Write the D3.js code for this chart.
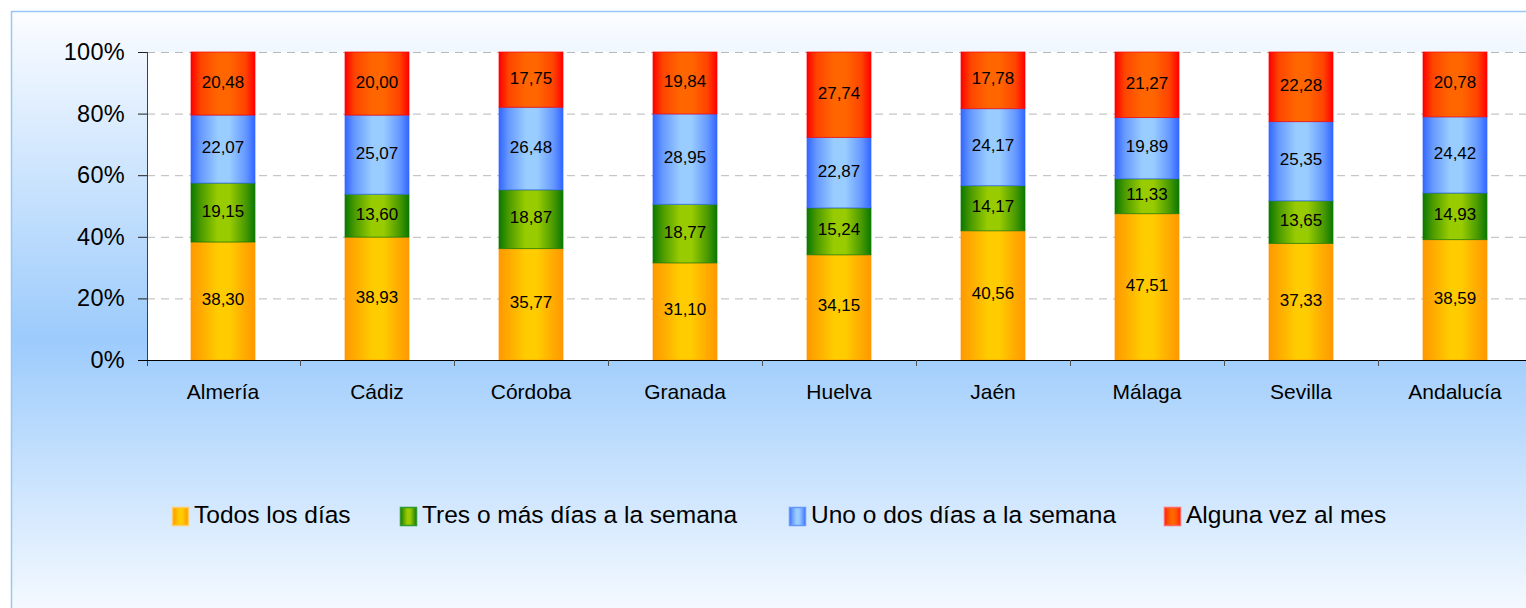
<!DOCTYPE html>
<html>
<head>
<meta charset="utf-8">
<script src="https://cdn.jsdelivr.net/npm/d3@7"></script>
<style>
  body { margin: 0; background: #ffffff; }
  svg text { font-family: "Liberation Sans", Arial, sans-serif; fill: #000; }
</style>
</head>
<body>
<svg id="chart" width="1526" height="608"></svg>
<script>
// data
var provincias = ["Almería", "Cádiz", "Córdoba", "Granada", "Huelva", "Jaén", "Málaga", "Sevilla", "Andalucía"]
var series = ["Todos los días", "Tres o más días a la semana", "Uno o dos días a la semana", "Alguna vez al mes"]
var todos_dias = [38.30, 38.93, 35.77, 31.10, 34.15, 40.56, 47.51, 37.33, 38.59]
var tres_mas = [19.15, 13.60, 18.87, 18.77, 15.24, 14.17, 11.33, 13.65, 14.93]
var uno_dos = [22.07, 25.07, 26.48, 28.95, 22.87, 24.17, 19.89, 25.35, 24.42]
var alguna_vez = [20.48, 20.00, 17.75, 19.84, 27.74, 17.78, 21.27, 22.28, 20.78]
var y_ticks = [0, 20, 40, 60, 80, 100]

var svg = d3.select("#chart")
var defs = svg.append("defs")

const plot = {left: 147, top: 52, bottom: 360, right: 1532}
const barWidth = 64

// gradients: edge / middle colours for each series
var palette = [
    {id: "g_todos", edge: "#ff9900", mid1: "#ffaa00", mid: "#ffcc00", light: "#ffcc66"},
    {id: "g_tres", edge: "#0b7800", mid1: "#4a9a00", mid: "#99cc00", light: "#339933"},
    {id: "g_uno", edge: "#3366ff", mid1: "#6699ff", mid: "#99ccff", light: "#6699ff"},
    {id: "g_alguna", edge: "#ff0000", mid1: "#ff4400", mid: "#ff6600", light: "#ff6666"}
]
palette.forEach(function(p) {
    var g = defs.append("linearGradient").attr("id", p.id)
        .attr("x1", "0%").attr("x2", "100%").attr("y1", "0%").attr("y2", "0%")
    g.append("stop").attr("offset", "0%").attr("stop-color", p.edge)
    g.append("stop").attr("offset", "15%").attr("stop-color", p.mid1)
    g.append("stop").attr("offset", "42%").attr("stop-color", p.mid)
    g.append("stop").attr("offset", "60%").attr("stop-color", p.mid)
    g.append("stop").attr("offset", "85%").attr("stop-color", p.mid1)
    g.append("stop").attr("offset", "100%").attr("stop-color", p.edge)
})

var bg = defs.append("linearGradient").attr("id", "bg_grad")
    .attr("x1", "0%").attr("x2", "0%").attr("y1", "0%").attr("y2", "100%")
bg.append("stop").attr("offset", "0%").attr("stop-color", "#fcfdff")
bg.append("stop").attr("offset", "52%").attr("stop-color", "#9ccbfc")
bg.append("stop").attr("offset", "100%").attr("stop-color", "#ffffff")

// chart area background
svg.append("rect")
    .attr("x", 11.5).attr("y", 11.5)
    .attr("width", 1540).attr("height", 630)
    .attr("fill", "url(#bg_grad)")
    .attr("stroke", "#99c7f5").attr("stroke-width", 1.5)

svg.append("rect")
    .attr("x", plot.left).attr("y", plot.top)
    .attr("width", plot.right - plot.left).attr("height", plot.bottom - plot.top)
    .attr("fill", "#ffffff")

// scales
var xScale = d3.scaleBand()
    .domain(provincias)
    .range([146, plot.right])

var yScale = d3.scaleLinear()
    .domain([0, 100])
    .range([plot.bottom, plot.top])

// gridlines
svg.append("g").attr("class", "grid")
    .selectAll("line")
    .data(y_ticks.filter(d => d > 0)).enter()
    .append("line")
    .attr("x1", plot.left).attr("x2", plot.right)
    .attr("y1", d => yScale(d) + 0.5).attr("y2", d => yScale(d) + 0.5)
    .attr("stroke", "#b8b8b8")
    .attr("stroke-dasharray", "8,6")

// stacked data
var table = provincias.map(function(p, i) {
    return {provincia: p, s0: todos_dias[i], s1: tres_mas[i], s2: uno_dos[i], s3: alguna_vez[i]}
})
var keys = ["s0", "s1", "s2", "s3"]
var stacked = d3.stack().keys(keys).offset(d3.stackOffsetExpand)(table)

var layers = svg.selectAll("g.layer")
    .data(stacked).enter()
    .append("g").attr("class", "layer")

layers.each(function(layer, li) {
    var g = d3.select(this)
    g.selectAll("rect")
        .data(layer).enter()
        .append("rect")
        .attr("x", d => xScale(d.data.provincia) + (xScale.bandwidth() - barWidth) / 2)
        .attr("width", barWidth)
        .attr("y", d => yScale(d[1] * 100))
        .attr("height", d => yScale(d[0] * 100) - yScale(d[1] * 100))
        .attr("fill", "url(#" + palette[li].id + ")")
        .attr("stroke", palette[li].edge)
        .attr("stroke-width", 1)
        .attr("stroke-opacity", 0.7)

    g.selectAll("text")
        .data(layer).enter()
        .append("text")
        .attr("x", d => xScale(d.data.provincia) + xScale.bandwidth() / 2)
        .attr("y", d => (yScale(d[0] * 100) + yScale(d[1] * 100)) / 2 + 4)
        .attr("text-anchor", "middle")
        .style("font-size", "17px")
        .text(d => d.data[layer.key].toFixed(2).replace(".", ","))
})

// y axis
var yAxis = svg.append("g").attr("class", "yaxis")
yAxis.append("line")
    .attr("x1", plot.left + 0.5).attr("x2", plot.left + 0.5)
    .attr("y1", plot.top).attr("y2", plot.bottom + 6)
    .attr("stroke", "#404040")
yAxis.selectAll("line.tick")
    .data(y_ticks).enter()
    .append("line").attr("class", "tick")
    .attr("x1", 138).attr("x2", plot.left)
    .attr("y1", d => yScale(d) + 0.5).attr("y2", d => yScale(d) + 0.5)
    .attr("stroke", "#202020")
yAxis.selectAll("text")
    .data(y_ticks).enter()
    .append("text")
    .attr("x", 125)
    .attr("y", d => yScale(d) + 8)
    .attr("text-anchor", "end")
    .style("font-size", "23.5px")
    .style("letter-spacing", "0.3px")
    .text(d => d + "%")

// x axis
var xAxis = svg.append("g").attr("class", "xaxis")
xAxis.append("line")
    .attr("x1", 138).attr("x2", plot.right)
    .attr("y1", plot.bottom + 0.5).attr("y2", plot.bottom + 0.5)
    .attr("stroke", "#000")
xAxis.selectAll("line.tick")
    .data(provincias.slice(1)).enter()
    .append("line").attr("class", "tick")
    .attr("x1", d => Math.round(xScale(d)) + 0.5).attr("x2", d => Math.round(xScale(d)) + 0.5)
    .attr("y1", plot.bottom).attr("y2", plot.bottom + 6)
    .attr("stroke", "#505050")
xAxis.selectAll("text")
    .data(provincias).enter()
    .append("text")
    .attr("x", d => xScale(d) + xScale.bandwidth() / 2)
    .attr("y", 399)
    .attr("text-anchor", "middle")
    .style("font-size", "21px")
    .text(d => d)

// legend
var legendX = [172, 400, 789, 1164]
var legend = svg.selectAll("g.legend")
    .data(series).enter()
    .append("g").attr("class", "legend")
    .attr("transform", (d, i) => "translate(" + legendX[i] + ",507)")
legend.append("rect")
    .attr("x", 0.5).attr("y", 0.5)
    .attr("width", 16).attr("height", 18)
    .attr("fill", (d, i) => "url(#" + palette[i].id + ")")
    .attr("stroke", (d, i) => palette[i].light)
    .attr("stroke-width", 1.5)
legend.append("text")
    .attr("x", 22)
    .attr("y", 16)
    .style("font-size", "24.5px")
    .text(d => d)
</script>
</body>
</html>
